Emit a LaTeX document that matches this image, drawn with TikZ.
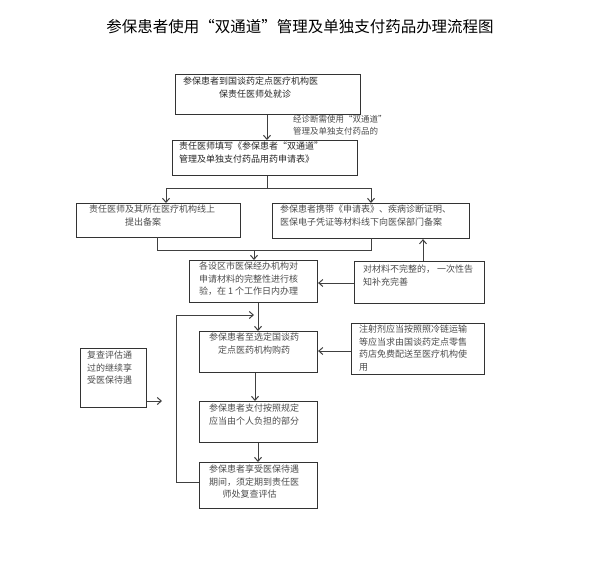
\documentclass[tikz,border=0pt]{standalone}
\usepackage{fontspec}
\newfontfamily\cjk{Noto Sans CJK SC}
\usetikzlibrary{calc,arrows.meta}
\begin{document}
\begin{tikzpicture}[x=1pt,y=-1pt,
  box/.style={draw=black!80,line width=1.1pt,rectangle,anchor=north west,inner sep=0pt},
  txt/.style={anchor=north west,font=\cjk\fontsize{9}{12.5}\selectfont,text=black!70,align=left,inner sep=0pt},
  arr/.style={draw=black!75,line width=1pt,-{Straight Barb[length=4pt,width=7pt]}},
  ln/.style={draw=black!75,line width=1pt}]
\useasboundingbox (0,0) rectangle (600,582);
\node[font=\cjk\fontsize{15.5}{18}\selectfont] (title) at (300,27) {参保患者使用“双通道”管理及单独支付药品办理流程图};
\node[box,minimum width=185,minimum height=40] (b1) at (175,74) {};
\node[txt,text=black!85] (b1t) at (183,77) {参保患者到国谈药定点医疗机构医\\\hspace*{4em}保责任医师处就诊};
\node[box,minimum width=185,minimum height=35] (b2) at (172,140) {};
\node[txt,text=black!85] (b2t) at (179,142) {责任医师填写《参保患者“双通道”\\管理及单独支付药品用药申请表》};
\node[txt,font=\cjk\fontsize{8.5}{12}\selectfont] (lab) at (293,115) {经诊断需使用“双通道”\\管理及单独支付药品的};
\node[box,minimum width=164,minimum height=34] (b3) at (76,203) {};
\node[txt] (b3t) at (89,205) {责任医师及其所在医疗机构线上\\\hspace*{4em}提出备案};
\node[box,minimum width=197,minimum height=35] (b4) at (272,203) {};
\node[txt] (b4t) at (280,205) {参保患者携带《申请表》、疾病诊断证明、\\医保电子凭证等材料线下向医保部门备案};
\node[box,minimum width=128,minimum height=42] (b5) at (189,260) {};
\node[txt] (b5t) at (199,262) {各设区市医保经办机构对\\申请材料的完整性进行核\\验，在 1 个工作日内办理};
\node[box,minimum width=130,minimum height=42] (b6) at (354,261) {};
\node[txt] (b6t) at (363,265) {对材料不完整的，\ 一次性告\\知补充完善};
\node[box,minimum width=118,minimum height=41] (b7) at (199,331) {};
\node[txt] (b7t) at (209,333) {参保患者至选定国谈药\\\hspace*{1em}定点医药机构购药};
\node[box,minimum width=133,minimum height=51] (b8) at (351,323) {};
\node[txt] (b8t) at (359,325) {注射剂应当按照照冷链运输\\等应当求由国谈药定点零售\\药店免费配送至医疗机构使\\用};
\node[box,minimum width=118,minimum height=41] (b9) at (199,401) {};
\node[txt] (b9t) at (209,404) {参保患者支付按照规定\\应当由个人负担的部分};
\node[box,minimum width=118,minimum height=46] (b10) at (199,462) {};
\node[txt] (b10t) at (209,465) {参保患者享受医保待遇\\期间，须定期到责任医\\\hspace*{1.5em}师处复查评估};
\node[box,line width=0.9pt,minimum width=66,minimum height=59] (b11) at (80,348) {};
\node[txt] (b11t) at (87,351) {复查评估通\\过的继续享\\受医保待遇};
\coordinate (split) at (267,188);
\coordinate (merge) at (254,250);
\coordinate (e11) at (162,401);
\draw[arr] (b1.south -| split) -- (b2.north -| split);
\draw[ln] (b2.south -| split) -- (split);
\draw[arr] (split) -| (166,203);
\draw[arr] (split) -| (371,203);
\draw[ln] (157,237) |- (371,250) -- (371,238);
\draw[arr] (merge) -- (b5.north -| merge);
\draw[arr] (b6.west |- 0,283) -- (b5.east |- 0,283);
\draw[arr] (b6.north -| 423,0) -- (b4.south -| 423,0);
\draw[arr] (b5.south -| 258,0) -- (b7.north -| 258,0);
\draw[arr] (b8.west |- 0,351) -- (b7.east |- 0,351);
\draw[arr] (b7.south -| 255,0) -- (b9.north -| 255,0);
\draw[arr] (b9.south -| 258,0) -- (b10.north -| 258,0);
\draw[arr] (b10.west |- 0,482) -| (176,315) -- (254,315);
\draw[arr] (b11.east |- e11) -- (e11);
\end{tikzpicture}
\end{document}
